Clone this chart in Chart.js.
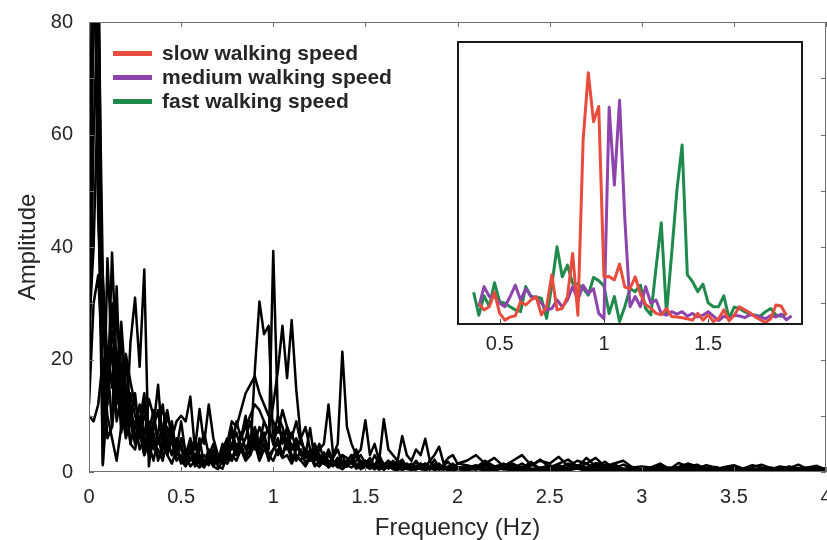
<!DOCTYPE html>
<html><head><meta charset="utf-8">
<script src="https://cdn.jsdelivr.net/npm/chart.js@4.4.0/dist/chart.umd.min.js"></script>
<style>
html,body{margin:0;padding:0;background:#fff;}
#wrap{position:relative;width:827px;height:540px;overflow:hidden;background:#fff;}
#main{position:absolute;left:0;top:0;}
#inset{position:absolute;left:450px;top:36px;}
#legend{position:absolute;left:113px;top:41px;font:bold 21px "Liberation Sans",Arial,sans-serif;color:#262626;}
.row{display:flex;align-items:center;height:24px;white-space:nowrap;}
.sw{width:39px;height:5px;margin-right:10px;}
</style></head>
<body><div id="wrap"><canvas id="main" width="827" height="540"></canvas><canvas id="inset" width="360" height="320"></canvas><div id="legend"></div></div>
<script>
// ---------- main chart data ----------
const freq = [0,0.025,0.05,0.075,0.1,0.125,0.15,0.175,0.2,0.225,
0.25,0.275,0.3,0.325,0.35,0.375,0.4,0.425,0.45,0.475,
0.5,0.525,0.55,0.575,0.6,0.625,0.65,0.675,0.7,0.725,
0.75,0.775,0.8,0.825,0.85,0.875,0.9,0.925,0.95,0.975,
1,1.025,1.05,1.075,1.1,1.125,1.15,1.175,1.2,1.225,
1.25,1.275,1.3,1.325,1.35,1.375,1.4,1.425,1.45,1.475,
1.5,1.525,1.55,1.575,1.6,1.625,1.65,1.675,1.7,1.725,
1.75,1.775,1.8,1.825,1.85,1.875,1.9,1.925,1.95,1.975,2,
2.05,2.1,2.15,2.2,2.25,2.3,2.35,2.4,2.45,2.5,
2.55,2.6,2.65,2.7,2.75,2.8,2.85,2.9,2.95,3,
3.05,3.1,3.15,3.2,3.25,3.3,3.35,3.4,3.45,3.5,
3.55,3.6,3.65,3.7,3.75,3.8,3.85,3.9,3.95,4];

const subject1 = [14,95,60,8,22,15,28,18,10,12,
6,9,4,7,11,5,8,3,6,4,
2,3,5,2.5,1.5,3,2,4,1.5,3,
5,2,4,6,10,3,18,30.3,24.5,26,
5,8,6,7,4,5,3,2.5,4,2,
3,1.5,2,1,2.5,1.5,1,2,1.2,0.8,
1.5,0.6,1.2,2,0.5,1,1.8,0.7,1.2,0.5,
1,0.6,0.8,1.5,0.4,0.8,0.5,1,0.6,0.4,0.7,
0.5,1,0.4,0.8,0.6,1.2,0.5,0.3,0.8,0.6,
1,0.4,0.7,1.5,0.5,0.8,0.3,0.6,0.4,0.2,
0.3,0.5,0.2,0.4,0.6,0.3,0.2,0.5,0.3,0.4,
0.2,0.3,0.5,0.2,0.4,0.3,0.2,0.5,0.3,0.2];

const subject2 = [30,120,90,1.5,38,20,12,25,8,14,
10,7,12,5,9,6,4,8,5,3,
6,4,2,5,3,1.5,4,2,3,1.8,
3,5,7,4,6,9,5,8,6,4,
39.3,10,5,8,4,6,3,4,2.5,5,
2,3.5,1.5,2.5,4,1.5,2,3,1,2,
1.5,2.5,1,3,1.2,2,0.8,1.5,2.2,0.8,
1.5,0.6,1.2,0.8,2,0.7,1.2,0.5,1,1.5,0.6,
1,0.6,1.5,0.8,0.5,1.2,0.7,1.8,0.5,1,
0.6,1.5,0.8,2.5,1,0.6,1.4,0.5,0.8,0.4,
0.6,0.3,0.8,0.5,1.2,0.4,0.6,0.9,0.4,0.7,
0.3,0.6,0.4,0.8,0.3,0.5,0.7,0.3,0.5,0.6];

const subject3 = [25,40,70,30,12,39,18,26.7,15,9,
14,6,10,8,4,7,12,5,3,6,
4,2,3.5,6,2,1.5,3,1,2.5,4,
2,5,3,7,4,6,8,5,9,7,
12,18,26,16.7,27,14.6,6,8,4,3,
5,2,3.5,1.5,2,3,1,2,4,1.5,
2,1,3,1.5,0.8,2,1.2,0.5,1.5,1,
0.6,1.8,0.8,1.2,0.5,1,1.5,0.6,0.4,1,0.8,
0.5,0.8,1.2,0.4,1,0.6,1.5,0.5,0.7,1.2,
0.5,0.8,1.1,0.4,0.9,1.8,0.6,0.4,0.7,0.3,
0.5,0.4,0.7,0.3,0.9,1.3,0.5,0.3,0.6,0.4,
0.5,0.3,0.7,0.4,0.2,0.6,0.4,0.8,0.3,0.5];

const subject4 = [10,9,12,20,6,8,33,10,7,23,
31,18.7,36,1,8,15.5,5,10,7,4,
9,3,6,2,4,7,3,5,2,1.5,
4,7,3,5,2.5,4,6,3,5,2,
4,6,3,5,2,4,6,3,7.8,2,
4,5,12,3,5,21.4,8,5,3,4,
9.2,3,5,2,9.4,4,3,2,6.4,3,
2,4,3,5.9,2,3,4.5,1.5,2.5,3,1.5,
2,3,1.5,2.5,1,2,3,1.2,2,1.5,
2.7,1,2,1.5,2.5,1,1.5,2,0.8,1,
0.8,1.5,0.5,1.6,1,0.6,1.2,0.8,0.5,1,
0.6,1.2,0.8,0.5,1,0.7,1.3,0.5,0.8,0.6];

const subject5 = [32,100,45,25,18,22,9,14,20,11,
8,12,6,13,10,5,8,11,6,9,
10,9,13.4,4,11.2,5,12,6,3,2,
5,9,8,11,14,15.5,17,14,12,10,
9,7,11,8,6,9,5,4,3,5,
3,2,4,2,1.5,3,2.5,1.5,2,3,
1.5,2,1,2.5,1.5,1,2,1.2,0.8,1.5,
1,2,0.8,1.5,1,2.2,0.8,1.2,1.8,0.7,1.5,
1.2,0.8,2,1,0.8,1.5,0.7,1.2,2.2,0.8,
1.5,2.2,1,0.8,1.6,1.2,0.7,1.3,0.6,0.5,
0.8,1.2,0.6,0.9,1.5,1,0.7,0.5,0.9,1.2,
0.6,0.9,1.3,0.7,0.5,1,0.6,0.8,1.1,0.4];

const subject6 = [20,85,100,12,16,30,14,10,21,16,
12,9,14,6,8,11,4,6,9,3,
5,2,4,1,3,2,1.5,3,2,4,
6,4,9,6,8,10,12,11,9,7,
6,10,8,5,7,4,6,3,2,4,
2.5,1.5,3,2,1,2,1.5,3,1,1.5,
2,1,0.5,1.5,1,0.6,1.2,2,0.7,1,
0.5,1,1.5,0.6,1,0.4,0.8,1.2,0.5,0.9,0.6,
0.8,0.4,1,0.6,1.5,0.5,0.9,0.4,0.6,1,
0.4,0.7,1.2,0.5,0.3,0.8,0.6,0.4,0.9,0.5,
0.4,0.7,0.3,0.5,0.8,0.4,0.3,0.6,0.5,0.3,
0.4,0.6,0.3,0.5,0.7,0.3,0.4,0.6,0.3,0.4];

const subject7 = [15,60,85,35,20,8,16,12,6,9,
5,7,3,9,5,4,2,6,3,5,
2,1,2.5,1.5,0.8,2,1.2,3,1,0.6,
3,2,5,4,3,6,4,5,7,3,
4,5,3,6,3,2,4,1.5,3,1,
2,1.5,1,2,0.8,1.5,1,2,0.6,1,
0.8,1.5,0.5,1,0.4,1.2,0.6,0.9,0.3,0.8,
0.5,0.4,0.9,0.3,0.6,1,0.4,0.7,0.3,0.5,0.8,
0.4,0.6,0.3,0.8,0.5,0.3,0.7,0.5,0.3,0.6,
0.3,0.5,0.7,0.3,0.4,0.6,0.3,0.5,0.2,0.4,
0.3,0.2,0.5,0.3,0.4,0.2,0.3,0.4,0.2,0.3,
0.2,0.4,0.3,0.2,0.3,0.4,0.2,0.3,0.2,0.3];

const subject8 = [28,110,50,1.2,13,25,20,7,12,5,
9,4,6,3,7,2,5,3,1.5,4,
1.5,3,1,2,1.5,0.8,2.5,1,0.5,2,
1.5,3,2,4,2,3,5,2,4,3,
2,4,2.5,3,1.5,3,2,1,2.5,1.5,
1,2,0.8,1.5,1,0.5,1.2,0.8,1.5,0.5,
1,0.6,1.2,0.4,0.8,1.1,0.5,0.3,0.9,0.6,
0.3,0.8,0.5,0.4,0.9,0.3,0.6,0.4,0.8,0.3,0.5,
0.3,0.6,0.4,0.2,0.7,0.4,0.3,0.6,0.4,0.2,
0.5,0.3,0.6,0.2,0.4,0.3,0.5,0.2,0.3,0.2,
0.2,0.4,0.3,0.2,0.3,0.5,0.2,0.3,0.2,0.4,
0.3,0.2,0.4,0.3,0.2,0.3,0.2,0.4,0.2,0.3];

const subject9 = [12,30,35,18,10,6,2,8,14,5,
4,8,3,5,2,6,3,4,8,2,
3,1.5,4,2,6,1,3.5,1.5,2,5,
3,8,4,6,9,5,7,4,6,8,
5,3,7,4,5,3,2,4,2,3,
1.5,3,2,1.5,2.5,1,2,1.5,3,1,
2,1.5,0.8,2,1,1.5,0.6,1.2,2,0.8,
1.2,0.7,1.5,1,0.6,1.4,0.8,1,0.5,1.2,0.9,
0.7,1.2,0.5,1,1.4,0.6,0.9,1.3,0.6,0.8,
1.2,0.6,1,0.5,1.3,0.7,0.9,0.5,0.6,0.3,
0.5,0.8,0.4,0.6,1,0.5,0.4,0.7,0.5,0.3,
0.5,0.4,0.6,0.3,0.5,0.8,0.4,0.3,0.6,0.4];

const xTickValues = [0,0.5,1,1.5,2,2.5,3,3.5,4];
const xTickLabels = ['0','0.5','1','1.5','2','2.5','3','3.5','4'];
const yTickValues = [0,10,20,30,40,50,60,70,80];
const yTickLabels = ['0','','20','','40','','60','','80'];

// ---------- inset data ----------
const insetFreq = [0.375,0.4,0.425,0.45,0.475,0.5,0.525,0.55,0.575,0.6,
0.625,0.65,0.675,0.7,0.725,0.75,0.775,0.8,0.825,0.85,
0.875,0.9,0.925,0.95,0.975,1,1.025,1.05,1.075,1.1,
1.125,1.15,1.175,1.2,1.225,1.25,1.275,1.3,1.325,1.35,
1.375,1.4,1.425,1.45,1.475,1.5,1.525,1.55,1.575,1.6,
1.625,1.65,1.675,1.7,1.725,1.75,1.775,1.8,1.825,1.85,
1.875,1.9];

const slowSpeed = [null,5.9,4,4.9,9,3,1.1,2,2.3,6.3,
5.4,6.8,7.8,2.6,4.9,14,4,4.4,7.8,20,
2.5,52,71.3,57.4,61.7,13.4,13.5,12.5,17,10.5,
10,13.4,8.5,5.5,4.5,3,2.6,4.4,2.1,2,
1.8,1.5,1.1,3,1.1,2.6,0.7,1.5,4,0.9,
2.5,4.9,4,3.2,2,1.2,0.4,1.5,5.4,5.1,
2.5,null];

const mediumSpeed = [null,4.9,10.6,7.8,7.8,5.9,4.9,7.8,11,6.8,
10,7.8,7.3,5.9,4,4.4,6.8,4.9,6.8,10.6,
6.8,11,8.7,10,3,1.5,61.5,39.4,63.5,30,
4.9,7.8,4.9,10.6,5.9,6.8,3,2.5,3.5,2.8,
3.5,2.2,3,2,2.5,3.5,2.2,1,2.2,1.5,
2.5,2.3,1.8,2.6,2.4,2,1.5,2.4,2,2.8,
1.2,2.3];

const fastSpeed = [9,2.5,8,5,11.7,6.3,5.9,4.9,4,3.5,
10.6,7.8,7.6,7.3,1.6,11,21.9,13.4,16.7,11.5,
11.3,10.1,8.2,13.2,12.3,10.8,3,7.8,0.7,4.9,
10,9.2,11,4.4,2.6,16,28.7,3,20,38,
50.8,14,12,9.2,11.3,6,4.9,4.9,8,1.6,
4.8,4.4,3.5,2.8,2.5,2.2,3.5,4.4,2.6,2.2,
3,null];

const insetTickValues = [0.5,1,1.5];
const insetTickLabels = ['0.5','1','1.5'];
const speedNames = ['slow walking speed','medium walking speed','fast walking speed'];
const speedColors = ['#e84c3d','#8e44ad','#1e8a4c'];

// ---------- charts ----------
Chart.defaults.font.family = '"Liberation Sans", Arial, Helvetica, sans-serif';
Chart.defaults.color = '#262626';

const subjects = [subject1,subject2,subject3,subject4,subject5,subject6,subject7,subject8,subject9];

const mainFrame = {
  id: 'mainFrame',
  afterDatasetsDraw(chart) {
    const {ctx, chartArea: a, scales: {x, y}} = chart;
    ctx.save();
    ctx.strokeStyle = '#6f6f6f';
    ctx.lineWidth = 1;
    ctx.beginPath();
    ctx.rect(a.left + 0.5, a.top + 0.5, a.right - a.left - 1, a.bottom - a.top - 1);
    x.ticks.forEach(t => {
      const px = Math.round(x.getPixelForValue(t.value)) + 0.5;
      ctx.moveTo(px, a.bottom); ctx.lineTo(px, a.bottom - 5);
      ctx.moveTo(px, a.top); ctx.lineTo(px, a.top + 5);
    });
    y.ticks.forEach(t => {
      const py = Math.round(y.getPixelForValue(t.value)) + 0.5;
      ctx.moveTo(a.left, py); ctx.lineTo(a.left + 5, py);
      ctx.moveTo(a.right, py); ctx.lineTo(a.right - 5, py);
    });
    ctx.stroke();
    ctx.restore();
  }
};

new Chart(document.getElementById('main'), {
  type: 'line',
  data: {
    datasets: subjects.map(s => ({
      data: freq.map((f, i) => ({x: f, y: s[i]})),
      borderColor: '#000', borderWidth: 2.5, pointRadius: 0, fill: false, tension: 0,
      borderJoinStyle: 'round'
    }))
  },
  options: {
    responsive: false, animation: false, events: [],
    layout: {padding: {left: 0, right: 1, top: 22, bottom: 0}},
    plugins: {legend: {display: false}, tooltip: {enabled: false}},
    scales: {
      x: {
        type: 'linear', min: 0, max: 4,
        afterBuildTicks: s => { s.ticks = xTickValues.map(v => ({value: v})); },
        ticks: {callback: (v, i) => xTickLabels[i], padding: 13, font: {size: 20}, maxRotation: 0, autoSkip: false},
        grid: {display: false, drawTicks: false}, border: {display: false},
        title: {display: true, text: 'Frequency (Hz)', font: {size: 24, lineHeight: 1}, padding: {top: 0, bottom: 0}},
        afterFit: s => { s.height = 68; s.paddingLeft = 0; s.paddingRight = 0; }
      },
      y: {
        type: 'linear', min: 0, max: 80,
        afterBuildTicks: s => { s.ticks = yTickValues.map(v => ({value: v})); },
        ticks: {callback: (v, i) => yTickLabels[i], padding: 16, font: {size: 20}, autoSkip: false},
        grid: {display: false, drawTicks: false}, border: {display: false},
        title: {display: true, text: 'Amplitude', font: {size: 24, lineHeight: 1}, padding: {top: 16, bottom: 0}},
        afterFit: s => { s.width = 89; s.paddingTop = 0; s.paddingBottom = 0; }
      }
    }
  },
  plugins: [mainFrame]
});

const insetFrame = {
  id: 'insetFrame',
  beforeDatasetsDraw(chart) {
    const {ctx, chartArea: a} = chart;
    ctx.save(); ctx.fillStyle = '#fff';
    ctx.fillRect(a.left, a.top, a.right - a.left, a.bottom - a.top);
    ctx.restore();
  },
  afterDatasetsDraw(chart) {
    const {ctx, chartArea: a, scales: {x}} = chart;
    ctx.save();
    ctx.strokeStyle = '#1a1a1a';
    ctx.lineWidth = 2;
    ctx.strokeRect(a.left, a.top, a.right - a.left, a.bottom - a.top);
    ctx.lineWidth = 1;
    ctx.strokeStyle = '#444';
    ctx.beginPath();
    x.ticks.forEach(t => {
      const px = Math.round(x.getPixelForValue(t.value)) + 0.5;
      ctx.moveTo(px, a.bottom); ctx.lineTo(px, a.bottom - 5);
    });
    ctx.stroke();
    ctx.restore();
  }
};

const speedSeries = [slowSpeed, mediumSpeed, fastSpeed];
new Chart(document.getElementById('inset'), {
  type: 'line',
  data: {
    datasets: speedSeries.map((s, k) => ({
      label: speedNames[k],
      data: insetFreq.map((f, i) => ({x: f, y: s[i]})),
      borderColor: speedColors[k], borderWidth: 3, pointRadius: 0, fill: false, tension: 0,
      borderJoinStyle: 'round', spanGaps: false
    }))
  },
  options: {
    responsive: false, animation: false, events: [],
    layout: {padding: {left: 8, right: 8, top: 6, bottom: 0}},
    plugins: {legend: {display: false}, tooltip: {enabled: false}},
    scales: {
      x: {
        type: 'linear', min: 0.3, max: 1.95,
        afterBuildTicks: s => { s.ticks = insetTickValues.map(v => ({value: v})); },
        ticks: {callback: (v, i) => insetTickLabels[i], padding: 8, font: {size: 20}, maxRotation: 0, autoSkip: false},
        grid: {display: false, drawTicks: false}, border: {display: false},
        afterFit: s => { s.height = 32; s.paddingLeft = 0; s.paddingRight = 0; }
      },
      y: {type: 'linear', min: 0, max: 80, display: false}
    }
  },
  plugins: [insetFrame]
});

// legend (HTML, real text)
const legend = document.getElementById('legend');
speedNames.forEach((name, k) => {
  const row = document.createElement('div'); row.className = 'row';
  const sw = document.createElement('div'); sw.className = 'sw'; sw.style.background = speedColors[k];
  const tx = document.createElement('span'); tx.textContent = name;
  row.appendChild(sw); row.appendChild(tx); legend.appendChild(row);
});
</script></body></html>
